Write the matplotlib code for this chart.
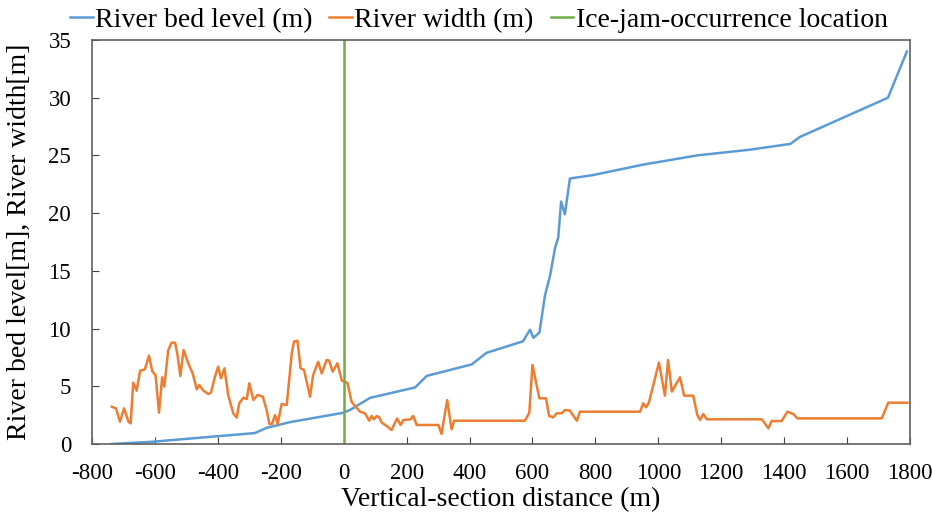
import matplotlib
matplotlib.use("Agg")
import matplotlib.pyplot as plt

plt.rcParams['font.family'] = ['Liberation Serif', 'DejaVu Serif']
plt.rcParams['axes.unicode_minus'] = False

bed_x = [-737, -606, -282, -245, -170, -2, 20, 84, 227, 264, 407, 454, 570, 592, 603, 622,
         640, 656, 672, 682, 691, 703, 719, 793, 951, 1123, 1292, 1420, 1450, 1730, 1790]
bed_y = [0, 0.2, 0.95, 1.4, 1.9, 2.7, 2.95, 4.0, 4.9, 5.9, 6.9, 7.9, 8.9, 9.9, 9.2, 9.65,
         12.9, 14.6, 17.0, 17.9, 21.0, 19.9, 23.0, 23.3, 24.2, 25.0, 25.5, 26.0, 26.6, 30.0, 34.0]

width_x = [-737, -724, -711, -698, -684, -677, -669, -658, -647, -632, -619, -608, -598, -587,
           -577, -570, -558, -547, -536, -529, -519, -509, -494, -480, -467, -459, -446, -430,
           -422, -409, -399, -390, -379, -367, -351, -340, -332, -319, -308, -300, -287, -274,
           -257, -245, -236, -228, -218, -210, -197, -181, -165, -158, -147, -137, -126, -107,
           -97, -81, -70, -54, -46, -35, -20, -6, 12, 25, 36, 52, 68, 81, 89, 96, 105, 113,
           121, 137, 152, 170, 181, 190, 213, 221, 232, 301, 311, 329, 343, 351, 576, 590, 600,
           622, 643, 653, 666, 677, 693, 704, 719, 741, 751, 942, 952, 961, 970, 1002, 1021,
           1031, 1043, 1069, 1082, 1111, 1124, 1133, 1143, 1154, 1329, 1350, 1360, 1392, 1410,
           1429, 1442, 1710, 1731, 1792]
width_y = [3.23, 3.09, 1.93, 3.09, 1.93, 1.79, 5.31, 4.62, 6.35, 6.47, 7.65, 6.27, 5.98, 2.72,
           5.78, 4.97, 8.09, 8.78, 8.78, 7.86, 5.89, 8.15, 6.99, 6.12, 4.74, 5.11, 4.62, 4.33,
           4.45, 5.84, 6.70, 5.69, 6.56, 4.25, 2.66, 2.28, 3.53, 4.01, 3.90, 5.26, 3.81, 4.25,
           4.10, 2.95, 1.73, 1.73, 2.51, 1.73, 3.47, 3.38, 7.86, 8.87, 8.95, 6.56, 6.41, 4.10,
           5.98, 7.13, 6.12, 7.28, 7.22, 6.27, 6.99, 5.5, 5.3, 3.67, 3.29, 2.8, 2.66, 2.02, 2.43,
           2.14, 2.43, 2.31, 1.85, 1.56, 1.21, 2.22, 1.65, 2.08, 2.14, 2.43, 1.65, 1.65, 0.87,
           3.81, 1.27, 2.02, 2.02, 2.71, 6.85, 3.96, 3.96, 2.43, 2.31, 2.66, 2.66, 2.95, 2.89,
           2.02, 2.80, 2.80, 3.53, 3.18, 3.58, 7.05, 4.19, 7.28, 4.54, 5.78, 4.19, 4.19, 2.51,
           2.08, 2.60, 2.14, 2.14, 1.36, 1.99, 1.99, 2.80, 2.60, 2.22, 2.22, 3.58, 3.58]

ice_jam_x = 0
x_ticks = list(range(-800, 1801, 200))
y_ticks = list(range(0, 36, 5))

fig = plt.figure(figsize=(9.32, 5.16), dpi=100)
ax = fig.add_axes([0.0987, 0.1395, 0.8777, 0.783])

ax.plot(bed_x, bed_y, color='#5B9BD5', lw=1.8, label='River bed level (m)')
ax.plot(width_x, width_y, color='#ED7D31', lw=1.8, label='River width (m)')
ax.axvline(ice_jam_x, color='#70AD47', lw=1.8, label='Ice-jam-occurrence location')

ax.set_xlim(-800, 1800)
ax.set_ylim(0, 35)
ax.set_xticks(x_ticks)
ax.set_yticks(y_ticks)
ax.tick_params(direction='in', labelsize=16.5, length=5, color='#404040')
ax.tick_params(axis='x', pad=14)
ax.tick_params(axis='y', pad=15)
for s in ax.spines.values():
    s.set_color('#606060')
    s.set_linewidth(1.2)

ax.set_xlabel('Vertical-section distance (m)', fontsize=20, labelpad=2)
ax.set_ylabel('River bed level[m], River width[m]', fontsize=20, labelpad=12)

ax.legend(loc='lower center', bbox_to_anchor=(0.473, 0.99), ncol=3, frameon=False,
          fontsize=20, handlelength=0.8, handletextpad=0.1, columnspacing=0.6,
          borderaxespad=0)

fig.savefig('out.png', dpi=100)
